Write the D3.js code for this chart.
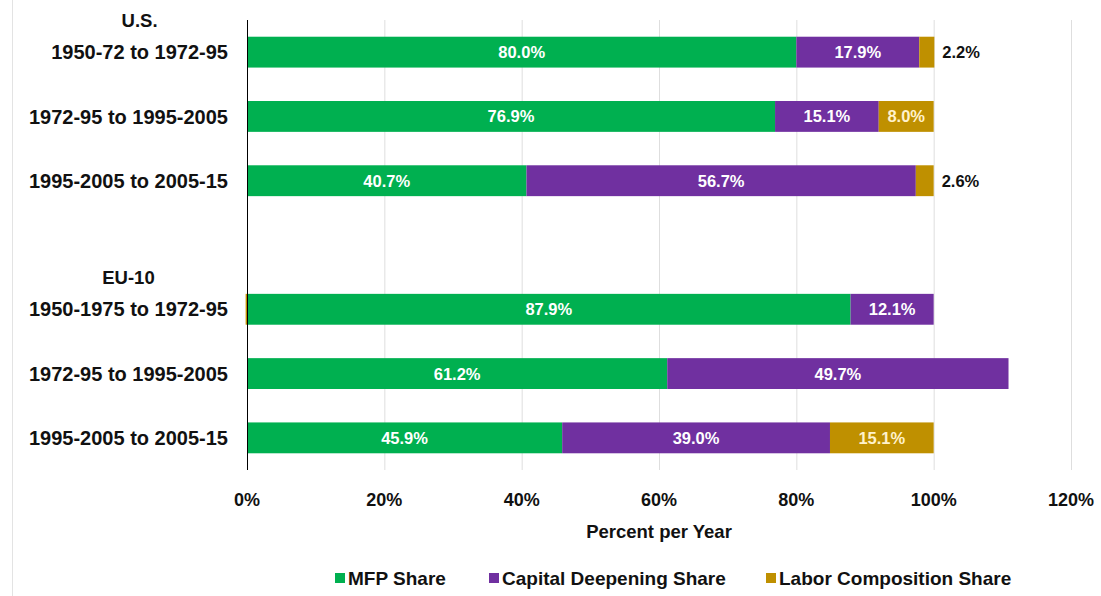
<!DOCTYPE html>
<html>
<head>
<meta charset="utf-8">
<script src="https://cdn.jsdelivr.net/npm/d3@7"></script>
<style>
  body { margin: 0; background: #fff; }
  text { font-family: "Liberation Sans", Arial, sans-serif; font-weight: bold; }
</style>
</head>
<body>
<div id="chart"></div>
<script>
// rows, top to bottom; "gap" is the empty row between the two groups
let rowKeys = ["us1", "us2", "us3", "gap", "eu1", "eu2", "eu3"];
let rowLabels = ["1950-72 to 1972-95", "1972-95 to 1995-2005", "1995-2005 to 2005-15", "",
                 "1950-1975 to 1972-95", "1972-95 to 1995-2005", "1995-2005 to 2005-15"];
let groupLabels = { us1: "U.S.", eu1: "EU-10" };

let mfpShare     = [80.0, 76.9, 40.7, null, 87.9, 61.2, 45.9];
let capitalShare = [17.9, 15.1, 56.7, null, 12.1, 49.7, 39.0];
let laborShare   = [2.2, 8.0, 2.6, null, -0.2, null, 15.1];

let seriesNames = ["MFP Share", "Capital Deepening Share", "Labor Composition Share"];
let seriesColors = ["#00B050", "#7030A0", "#BF9000"];
let xTicks = [0, 20, 40, 60, 80, 100, 120];

let width = 1101, height = 596;
let margin = { top: 20, left: 247, right: 30, bottom: 126 };

const svg = d3.select("#chart").append("svg")
  .attr("width", width)
  .attr("height", height);

// faint chart border on the left
svg.append("line")
  .attr("x1", 12.5).attr("x2", 12.5)
  .attr("y1", 0).attr("y2", height)
  .attr("stroke", "#e3e3e3");

let x = d3.scaleLinear()
  .domain([0, 120])
  .range([margin.left, width - margin.right]);

let y = d3.scaleBand()
  .domain(rowKeys)
  .range([margin.top, height - margin.bottom])
  .paddingInner(0.52)
  .paddingOuter(0.26);

// gridlines
svg.append("g")
  .selectAll("line")
  .data(xTicks.filter(d => d > 0))
  .enter()
  .append("line")
  .attr("x1", d => x(d) + 0.5)
  .attr("x2", d => x(d) + 0.5)
  .attr("y1", margin.top)
  .attr("y2", height - margin.bottom)
  .attr("stroke", "#dedede");

// build stacked segments
let segments = [];
rowKeys.forEach((k, i) => {
  let vals = [mfpShare[i], capitalShare[i], laborShare[i]];
  let pos = 0, neg = 0;
  vals.forEach((v, s) => {
    if (v == null) return;
    let x0, x1;
    if (v >= 0) { x0 = pos; x1 = pos + v; pos = x1; }
    else { x1 = neg; x0 = neg + v; neg = x0; }
    segments.push({ row: k, series: s, value: v, x0: x0, x1: x1 });
  });
});

svg.append("g")
  .selectAll("rect")
  .data(segments)
  .enter()
  .append("rect")
  .attr("x", d => x(d.x0))
  .attr("width", d => x(d.x1) - x(d.x0))
  .attr("y", d => y(d.row))
  .attr("height", y.bandwidth())
  .attr("fill", d => seriesColors[d.series]);

// value labels: small labor shares go outside the bar end
let fmt = d => d3.format(".1f")(d) + "%";
let narrow = d => (x(d.x1) - x(d.x0)) < 30;
svg.append("g")
  .selectAll("text")
  .data(segments.filter(d => Math.abs(d.value) >= 1))
  .enter()
  .append("text")
  .attr("x", d => narrow(d) ? x(d.x1) + 8 : (x(d.x0) + x(d.x1)) / 2)
  .attr("y", d => y(d.row) + y.bandwidth() / 2)
  .attr("dy", "0.36em")
  .attr("text-anchor", d => narrow(d) ? "start" : "middle")
  .attr("fill", d => narrow(d) ? "#111" : (d.series == 2 ? "#FFF2CC" : "#fff"))
  .style("font-size", "16.5px")
  .text(d => fmt(d.value));

// y axis line
svg.append("line")
  .attr("x1", x(0) + 0.5).attr("x2", x(0) + 0.5)
  .attr("y1", margin.top).attr("y2", height - margin.bottom)
  .attr("stroke", "#000");

// row labels
let labelRight = 228;
let rowText = svg.append("g")
  .selectAll("text")
  .data(rowKeys.map((k, i) => ({ key: k, label: rowLabels[i] })).filter(d => d.label))
  .enter()
  .append("text")
  .attr("x", labelRight)
  .attr("y", d => y(d.key) + y.bandwidth() / 2)
  .attr("dy", "0.36em")
  .attr("text-anchor", "end")
  .attr("fill", "#111")
  .style("font-size", "20px")
  .text(d => d.label);

// group headers, centred over their first row label
rowText.filter(d => groupLabels[d.key]).each(function (d) {
  let bb = this.getBBox();
  svg.append("text")
    .attr("x", bb.x + bb.width / 2)
    .attr("y", y(d.key) + y.bandwidth() / 2 - 32)
    .attr("dy", "0.36em")
    .attr("text-anchor", "middle")
    .attr("fill", "#111")
    .style("font-size", "18.5px")
    .text(groupLabels[d.key]);
});

// x tick labels
svg.append("g")
  .selectAll("text")
  .data(xTicks)
  .enter()
  .append("text")
  .attr("x", d => x(d))
  .attr("y", 500)
  .attr("dy", "0.36em")
  .attr("text-anchor", "middle")
  .attr("fill", "#111")
  .style("font-size", "18px")
  .text(d => d + "%");

svg.append("text")
  .attr("x", (x(0) + x(120)) / 2)
  .attr("y", 531)
  .attr("dy", "0.36em")
  .attr("text-anchor", "middle")
  .attr("fill", "#111")
  .style("font-size", "18.5px")
  .text("Percent per Year");

// legend
let legendX = [335, 489, 766];
let legend = svg.append("g")
  .selectAll("g")
  .data(seriesNames)
  .enter()
  .append("g")
  .attr("transform", (d, i) => `translate(${legendX[i]}, 578)`);

legend.append("rect")
  .attr("x", 0).attr("y", -5)
  .attr("width", 10).attr("height", 10)
  .attr("fill", (d, i) => seriesColors[i]);

legend.append("text")
  .attr("x", 13)
  .attr("dy", "0.36em")
  .attr("fill", "#111")
  .style("font-size", "19px")
  .text(d => d);
</script>
</body>
</html>
